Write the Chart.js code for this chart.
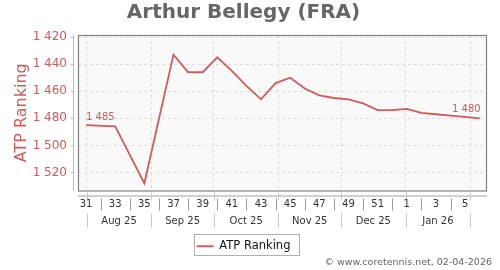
<!DOCTYPE html>
<html>
<head>
<meta charset="utf-8">
<script src="https://cdn.jsdelivr.net/npm/chart.js@4.4.1/dist/chart.umd.min.js"></script>
<style>
  html, body { margin: 0; padding: 0; background: #fff; }
  canvas { display: block; }
</style>
</head>
<body>
<canvas id="chartRanking" width="500" height="270"></canvas>
<script>
// semanas ISO (31..52 de 2025, luego 1..6 de 2026)
const weeks = [31, 33, 35, 37, 38, 39, 40, 41, 42, 43, 44, 45, 46, 47, 48, 49, 50, 51, 52, 1, 2, 3, 4, 5, 6];
const ranking = [1485, 1486, 1528, 1433, 1446, 1446, 1435, 1445, 1456, 1466, 1454, 1450, 1458, 1463, 1465, 1466, 1469, 1474, 1474, 1473, 1476, 1477, 1478, 1479, 1480];

const weekLabels = [31, 33, 35, 37, 39, 41, 43, 45, 47, 49, 51, 1, 3, 5];
const weekSeparators = [32, 34, 36, 38, 40, 42, 44, 46, 48, 50, 52, 2, 4];
const monthLabels = ['Aug 25', 'Sep 25', 'Oct 25', 'Nov 25', 'Dec 25', 'Jan 26'];
// inicio de cada mes, en semanas
const monthEdges = [31.05, 35.48, 39.77, 44.2, 48.49, 52.92, 57.35];
const yTicks = [1420, 1440, 1460, 1480, 1500, 1520];

const RED = '#cd5c5c';
const FONT = '"DejaVu Sans", sans-serif';

// semana 1 de 2026 va detrás de la 52
const weekPos = (w) => (w < 31 ? w + 52 : w);
const fmt = (v) => String(v).replace(/\B(?=(\d{3})+(?!\d))/g, ' ');

const points = weeks.map((w, i) => ({ x: weekPos(w), y: ranking[i] }));

const decorations = {
    id: 'decorations',
    beforeDraw(chart) {
        const { ctx, chartArea: a } = chart;
        ctx.save();
        ctx.fillStyle = '#f9f9f9';
        ctx.fillRect(a.left, a.top, a.right - a.left, a.bottom - a.top);
        ctx.restore();
    },
    afterDraw(chart) {
        const { ctx, chartArea: a } = chart;
        const xs = chart.scales.x;
        const ys = chart.scales.y;
        ctx.save();

        // marco del área
        ctx.strokeStyle = '#808080';
        ctx.lineWidth = 1.2;
        ctx.strokeRect(a.left + 0.5, a.top + 0.5, a.right - a.left - 1, a.bottom - a.top);

        // eje Y separado
        ctx.strokeStyle = '#e2a9a9';
        ctx.lineWidth = 1;
        ctx.beginPath();
        ctx.moveTo(a.left - 4.5, a.top);
        ctx.lineTo(a.left - 4.5, a.bottom);
        yTicks.forEach((v) => {
            const y = Math.round(ys.getPixelForValue(v)) + 0.5;
            ctx.moveTo(a.left - 7, y);
            ctx.lineTo(a.left - 4.5, y);
        });
        ctx.stroke();

        // eje X separado
        const axisY = a.bottom + 5.5;
        ctx.strokeStyle = '#a0a0a0';
        ctx.beginPath();
        ctx.moveTo(a.left, axisY);
        ctx.lineTo(a.right, axisY);
        ctx.stroke();

        ctx.strokeStyle = '#c8c8c8';
        ctx.beginPath();
        monthEdges.forEach((m) => {
            const x = Math.round(xs.getPixelForValue(m)) + 0.5;
            ctx.moveTo(x, a.bottom + 2);
            ctx.lineTo(x, a.bottom + 10);
            ctx.moveTo(x, a.bottom + 23);
            ctx.lineTo(x, a.bottom + 37);
        });
        ctx.stroke();

        ctx.strokeStyle = '#9a9a9a';
        ctx.beginPath();
        weekSeparators.forEach((w) => {
            const x = Math.round(xs.getPixelForValue(weekPos(w))) + 0.5;
            ctx.moveTo(x, a.bottom + 8);
            ctx.lineTo(x, a.bottom + 20);
        });
        ctx.stroke();

        // etiquetas de semana y mes
        ctx.fillStyle = '#333';
        ctx.font = '10px ' + FONT;
        ctx.textAlign = 'center';
        ctx.textBaseline = 'middle';
        weekLabels.forEach((w) => {
            ctx.fillText(String(w), xs.getPixelForValue(weekPos(w)), a.bottom + 14);
        });
        monthLabels.forEach((m, i) => {
            const mid = (monthEdges[i] + monthEdges[i + 1]) / 2;
            ctx.fillText(m, xs.getPixelForValue(mid), a.bottom + 30.5);
        });

        // valores primero y último
        const meta = chart.getDatasetMeta(0);
        const first = meta.data[0];
        const last = meta.data[meta.data.length - 1];
        ctx.fillStyle = RED;
        ctx.font = '10px ' + FONT;
        ctx.textAlign = 'left';
        ctx.fillText(fmt(ranking[0]), first.x, first.y - 8);
        ctx.textAlign = 'right';
        ctx.fillText(fmt(ranking[ranking.length - 1]), last.x + 1, last.y - 9);

        // recuadro de la leyenda
        const hb = chart.legend.legendHitBoxes[0];
        if (hb) {
            const cy = hb.top + hb.height / 2;
            ctx.strokeStyle = '#b0b0b0';
            ctx.lineWidth = 1;
            ctx.strokeRect(Math.round(hb.left - 3) + 0.5, Math.round(cy - 12) + 0.5,
                Math.round(hb.width + 11), 21);
        }

        // créditos
        ctx.fillStyle = '#666';
        ctx.font = '9.5px ' + FONT;
        ctx.textAlign = 'right';
        ctx.fillText('\u00a9 www.coretennis.net, 02-04-2026', 492, 263);
        ctx.restore();
    }
};

new Chart(document.getElementById('chartRanking'), {
    type: 'line',
    data: {
        datasets: [{
            label: 'ATP Ranking',
            data: points,
            borderColor: RED,
            backgroundColor: RED,
            borderWidth: 1.8,
            pointRadius: 0,
            tension: 0,
            fill: false,
        }],
    },
    options: {
        responsive: false,
        animation: false,
        layout: { padding: { left: 0, right: 13, top: 0, bottom: 8 } },
        plugins: {
            title: {
                display: true,
                text: 'Arthur Bellegy (FRA)',
                color: '#666',
                font: { family: FONT, size: 20, weight: 'bold' },
                padding: { top: 1, bottom: 10 },
            },
            legend: {
                display: true,
                position: 'bottom',
                labels: {
                    color: '#111',
                    font: { family: FONT, size: 11.5 },
                    usePointStyle: true,
                    pointStyle: 'line',
                    pointStyleWidth: 17,
                    padding: 10,
                },
            },
            tooltip: { enabled: false },
        },
        scales: {
            x: {
                type: 'linear',
                min: 30.45,
                max: 58.5,
                afterBuildTicks: (s) => { s.ticks = monthEdges.map((v) => ({ value: v })); },
                afterFit: (s) => { s.height = 40; },
                ticks: { display: false },
                grid: { color: '#dddddd', drawTicks: false },
                border: { display: false, dash: [3, 3] },
            },
            y: {
                type: 'linear',
                reverse: true,
                min: 1418.5,
                max: 1533.3,
                afterBuildTicks: (s) => { s.ticks = yTicks.map((v) => ({ value: v })); },
                afterFit: (s) => { s.width = 78; },
                ticks: {
                    color: RED,
                    font: { family: FONT, size: 12 },
                    padding: 11,
                    callback: (v) => fmt(v),
                },
                grid: { color: '#dddddd', drawTicks: false },
                border: { display: false, dash: [3, 3] },
                title: {
                    display: true,
                    text: 'ATP Ranking',
                    color: RED,
                    font: { family: FONT, size: 16 },
                    padding: { top: 12, bottom: 0 },
                },
            },
        },
    },
    plugins: [decorations],
});
</script>
</body>
</html>
